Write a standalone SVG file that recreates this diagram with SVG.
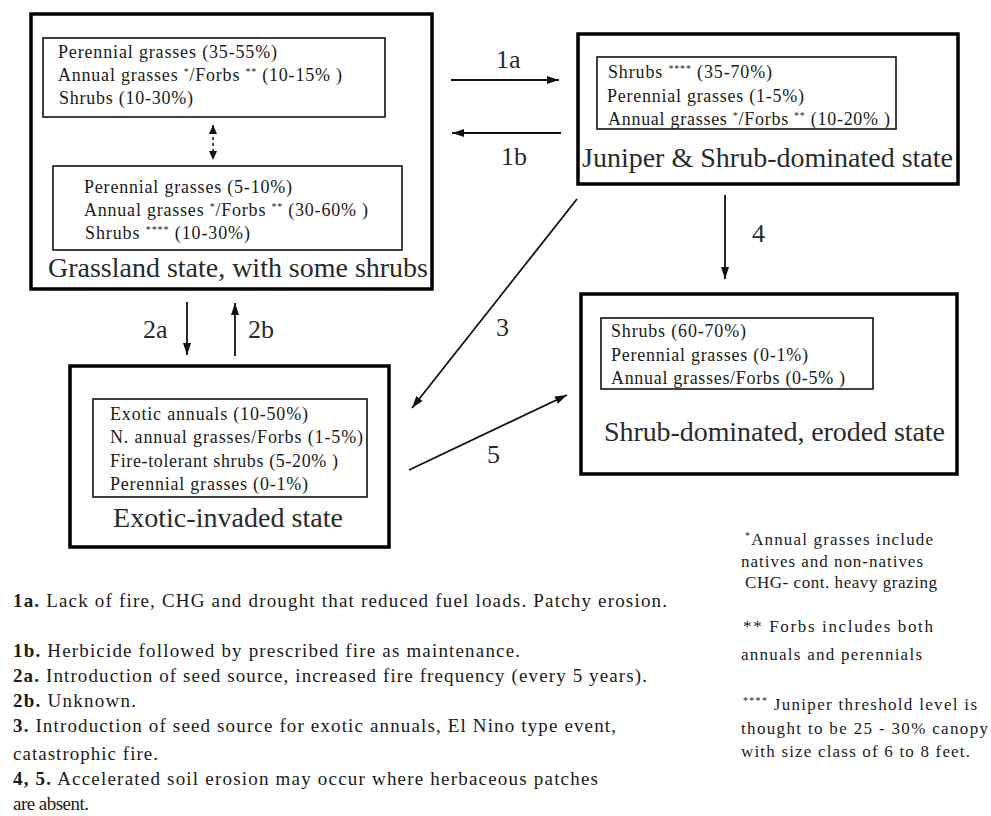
<svg xmlns="http://www.w3.org/2000/svg" width="991" height="816" viewBox="0 0 991 816">
<style>
  text { font-family: "Liberation Serif", "Times New Roman", serif; fill: #1a1a1a; }
  .t { font-size: 18px; }
  .title { font-size: 28px; fill: #2a2a2a; }
  .lbl { font-size: 26px; fill: #2a2a2a; }
  .fn { font-size: 17px; }
  .nt { font-size: 19px; }
  .b { font-weight: bold; }
  .outer { fill: #fff; stroke: #000; stroke-width: 3.5; }
  .inner { fill: #fff; stroke: #111; stroke-width: 1.6; }
  .edge { stroke: #111; stroke-width: 1.8; fill: none; marker-end: url(#ah); }
</style>
<defs>
  <marker id="ah" viewBox="0 0 12 10" refX="12" refY="5" markerWidth="12" markerHeight="10" markerUnits="userSpaceOnUse" orient="auto">
    <path d="M0,1 L12,5 L0,9 z" fill="#111"/>
  </marker>
  <marker id="sh" viewBox="0 0 9 8" refX="9" refY="4" markerWidth="9" markerHeight="8" markerUnits="userSpaceOnUse" orient="auto-start-reverse">
    <path d="M0,0 L9,4 L0,8 z" fill="#111"/>
  </marker>
</defs>
<rect width="991" height="816" fill="#fff"/>

<g id="grassland">
  <rect class="outer" x="31" y="14" width="401" height="275"/>
  <rect class="inner" x="43" y="38" width="342" height="79"/>
  <text class="t" x="58" y="58" textLength="219">Perennial grasses (35-55%)</text>
  <text class="t" x="58" y="81" textLength="284">Annual grasses <tspan font-size="10" dy="-6">*</tspan><tspan dy="6">/Forbs </tspan><tspan font-size="10" dy="-6">**</tspan><tspan dy="6"> (10-15% )</tspan></text>
  <text class="t" x="59" y="104" textLength="134">Shrubs (10-30%)</text>
  <line x1="213" y1="125" x2="213" y2="160" stroke="#111" stroke-width="1.5" stroke-dasharray="3,3" marker-start="url(#sh)" marker-end="url(#sh)"/>
  <rect class="inner" x="53" y="166" width="349" height="84"/>
  <text class="t" x="84" y="193" textLength="208">Perennial grasses (5-10%)</text>
  <text class="t" x="84" y="216" textLength="284">Annual grasses <tspan font-size="10" dy="-6">*</tspan><tspan dy="6">/Forbs </tspan><tspan font-size="10" dy="-6">**</tspan><tspan dy="6"> (30-60% )</tspan></text>
  <text class="t" x="85" y="239" textLength="165">Shrubs <tspan font-size="10" dy="-6">****</tspan><tspan dy="6"> (10-30%)</tspan></text>
  <text class="title" x="48" y="277" textLength="380">Grassland state, with some shrubs</text>
</g>

<g id="juniper">
  <rect class="outer" x="578" y="34" width="380" height="150"/>
  <rect class="inner" x="597" y="57" width="299" height="72"/>
  <text class="t" x="608" y="78" textLength="164">Shrubs <tspan font-size="10" dy="-6">****</tspan><tspan dy="6"> (35-70%)</tspan></text>
  <text class="t" x="607" y="102" textLength="197">Perennial grasses (1-5%)</text>
  <text class="t" x="608" y="125" textLength="282">Annual grasses <tspan font-size="10" dy="-6">*</tspan><tspan dy="6">/Forbs </tspan><tspan font-size="10" dy="-6">**</tspan><tspan dy="6"> (10-20% )</tspan></text>
  <text class="title" x="582" y="167" textLength="371">Juniper &amp; Shrub-dominated state</text>
</g>

<g id="exotic">
  <rect class="outer" x="70" y="366" width="319" height="181"/>
  <rect class="inner" x="93" y="399" width="274" height="98"/>
  <text class="t" x="110" y="420" textLength="198">Exotic annuals (10-50%)</text>
  <text class="t" x="110" y="443" textLength="253">N. annual grasses/Forbs (1-5%)</text>
  <text class="t" x="110" y="467" textLength="228">Fire-tolerant shrubs (5-20% )</text>
  <text class="t" x="110" y="490" textLength="198">Perennial grasses (0-1%)</text>
  <text class="title" x="113" y="527" textLength="230">Exotic-invaded state</text>
</g>

<g id="eroded">
  <rect class="outer" x="581" y="294" width="376" height="180"/>
  <rect class="inner" x="601" y="318" width="272" height="71"/>
  <text class="t" x="611" y="337" textLength="135">Shrubs (60-70%)</text>
  <text class="t" x="611" y="361" textLength="197">Perennial grasses (0-1%)</text>
  <text class="t" x="611" y="384" textLength="234">Annual grasses/Forbs (0-5% )</text>
  <text class="title" x="604" y="441" textLength="341">Shrub-dominated, eroded state</text>
</g>

<g id="connectors">
  <line class="edge" x1="451" y1="80" x2="559" y2="80"/>
  <line class="edge" x1="561" y1="133" x2="452" y2="133"/>
  <line class="edge" x1="725" y1="195" x2="725" y2="279"/>
  <line class="edge" x1="577" y1="199" x2="412" y2="408"/>
  <line class="edge" x1="409" y1="470" x2="567" y2="395"/>
  <line class="edge" x1="187" y1="302" x2="187" y2="355"/>
  <line class="edge" x1="235" y1="356" x2="235" y2="303"/>
  <text class="lbl" x="496" y="68">1a</text>
  <text class="lbl" x="501" y="165">1b</text>
  <text class="lbl" x="752" y="242">4</text>
  <text class="lbl" x="496" y="336">3</text>
  <text class="lbl" x="487" y="463">5</text>
  <text class="lbl" x="143" y="338">2a</text>
  <text class="lbl" x="248" y="338">2b</text>
</g>

<g id="footnotes">
  <text class="fn" x="745" y="545" textLength="188"><tspan font-size="10" dy="-6">*</tspan><tspan dy="6">Annual grasses include</tspan></text>
  <text class="fn" x="741" y="567" textLength="182">natives and non-natives</text>
  <text class="fn" x="745" y="588" textLength="192">CHG- cont. heavy grazing</text>
  <text class="fn" x="743" y="632" textLength="190">**  Forbs includes both</text>
  <text class="fn" x="741" y="660" textLength="181">annuals and perennials</text>
  <text class="fn" x="743" y="710" textLength="234"><tspan font-size="10" dy="-6">****</tspan><tspan dy="6"> Juniper threshold level is</tspan></text>
  <text class="fn" x="741" y="734" textLength="247">thought to be 25 - 30% canopy</text>
  <text class="fn" x="741" y="757" textLength="229">with size class of  6 to 8 feet.</text>
</g>

<g id="notes">
  <text class="nt" x="13" y="607" textLength="654"><tspan class="b">1a.</tspan> Lack of fire, CHG and drought that reduced fuel loads. Patchy erosion.</text>
  <text class="nt" x="13" y="657" textLength="507"><tspan class="b">1b.</tspan> Herbicide followed by prescribed fire as maintenance.</text>
  <text class="nt" x="13" y="682" textLength="634"><tspan class="b">2a.</tspan> Introduction of seed source, increased fire frequency (every 5 years).</text>
  <text class="nt" x="13" y="707" textLength="123"><tspan class="b">2b.</tspan> Unknown.</text>
  <text class="nt" x="13" y="732" textLength="603"><tspan class="b">3.</tspan> Introduction of seed source for exotic annuals, El Nino type event,</text>
  <text class="nt" x="13" y="760" textLength="145">catastrophic fire.</text>
  <text class="nt" x="13" y="785" textLength="585"><tspan class="b">4, 5.</tspan> Accelerated soil erosion may occur where herbaceous patches</text>
  <text class="nt" x="13" y="810" textLength="76">are absent.</text>
</g>
</svg>
